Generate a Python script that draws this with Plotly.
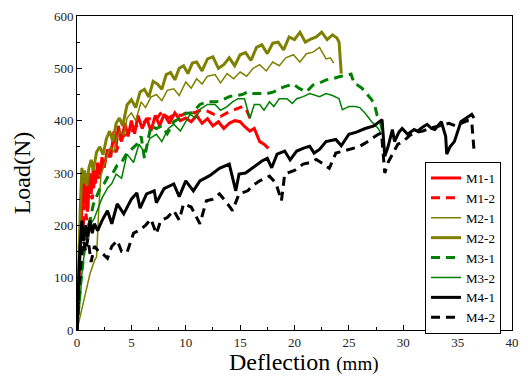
import plotly.graph_objects as go

# ---- data ----
m1_1_x = [0,0.2,0.35,0.5,0.6,0.7,0.85,1.0,1.15,1.3,1.5,1.7,1.9,2.1,2.3,2.5,2.8,3.1,3.4,3.6,3.8,4.1,4.4,4.7,5.0,5.3,5.6,6.0,6.4,6.8,7.2,7.6,8.0,8.5,9.0,9.5,10.0,10.5,11.0,11.5,12.0,12.5,13.0,13.5,14.0,14.5,15.0,15.4,15.9,16.3,16.8,17.2,17.6]
m1_1_y = [0,90,180,280,300,240,290,230,300,260,310,280,320,295,330,310,345,330,380,350,390,360,395,370,400,375,410,385,405,380,410,390,412,395,415,400,405,398,410,395,404,390,398,385,395,400,398,389,380,385,360,355,347]

m1_2_x = [0,0.3,0.5,0.7,0.9,1.1,1.4,1.7,2.0,2.4,2.8,3.2,3.6,4.0,4.5,5.0,5.5,6.0,6.6,7.2,7.8,8.4,9.0,9.6,10.2,10.8,11.4,12.0,12.6,13.2,13.8,14.4,14.8,15.2,15.5,15.8,16.1]
m1_2_y = [0,114,180,240,210,270,250,300,290,320,330,350,340,365,375,380,390,395,404,400,417,405,412,410,417,415,421,418,412,408,415,420,423,427,425,410,395]

m2_1_x = [0,0.4,0.8,1.2,1.6,1.8,2.0,2.2,2.5,2.8,3.1,3.4,3.7,4.0,4.3,4.6,5.0,5.4,5.9,6.3,6.8,7.3,7.8,8.3,8.9,9.4,10.0,10.5,11.0,11.5,12.0,12.7,13.2,13.8,14.4,15.0,15.6,16.2,16.8,17.4,18.0,18.6,19.2,19.9,20.5,21.1,21.7,22.3,22.9,23.3,23.6]
m2_1_y = [0,35,72,108,132,140,230,295,315,335,350,340,370,380,372,405,415,400,436,425,445,450,438,458,461,448,474,462,480,470,485,488,472,490,480,493,485,500,507,495,512,505,520,526,512,528,531,540,518,520,510]

m2_2_x = [0,0.15,0.3,0.45,0.55,0.7,0.9,1.1,1.3,1.5,1.8,2.1,2.4,2.7,3.0,3.3,3.6,3.9,4.2,4.6,5.0,5.4,5.8,6.2,6.6,7.0,7.4,7.8,8.2,8.6,9.0,9.4,9.8,10.2,10.6,11.0,11.5,12.0,12.5,13.0,13.5,14.0,14.5,15.0,15.5,16.0,16.5,17.0,17.5,18.0,18.5,19.0,19.5,20.0,20.5,21.0,21.5,22.0,22.5,23.0,23.5,23.9,24.1,24.3]
m2_2_y = [0,140,230,310,280,305,275,310,325,305,340,350,335,365,380,360,395,405,390,430,440,425,455,460,445,475,470,460,488,492,478,500,505,490,510,512,495,518,522,500,507,520,505,526,530,515,540,545,528,548,550,535,560,555,569,550,556,560,569,555,564,558,550,490]

m3_1_x = [0,0.3,0.6,0.9,1.2,1.5,1.8,2.1,2.5,2.9,3.3,3.7,4.1,4.5,5.0,5.5,5.9,6.2,6.5,6.8,7.3,7.8,8.3,8.9,9.5,10.0,10.6,11.3,12.0,12.8,13.4,14.0,14.6,15.2,15.7,16.2,16.7,17.5,18.1,18.6,19.1,19.5,19.9,20.4,21.1,21.7,22.3,22.9,23.5,24.1,24.7,25.2,25.5,25.8,26.2,26.7,27.1,27.4,27.6,27.9,28.1]
m3_1_y = [0,80,140,190,210,240,255,270,280,295,300,315,320,335,345,355,370,328,360,390,385,390,375,398,405,414,415,431,436,436,440,446,448,450,455,452,452,452,455,461,465,468,470,462,455,468,472,478,480,484,486,489,470,468,462,450,440,427,410,398,380]

m3_2_x = [0,0.3,0.45,0.7,0.9,1.2,1.6,2.0,2.3,2.8,3.2,3.6,4.1,4.6,5.2,5.7,6.2,6.7,7.3,7.8,8.4,8.9,9.5,10.0,10.4,10.9,11.4,12.0,12.7,13.2,13.8,14.3,14.8,15.4,15.9,16.3,16.8,17.2,17.7,18.1,18.6,19.3,19.8,20.2,20.8,21.4,21.7,22.3,22.9,23.5,24.1,24.4,24.8,25.0,25.6,26.0,26.5,27.1,27.7,28.0]
m3_2_y = [0,60,108,152,170,200,214,235,252,271,280,298,290,336,320,355,340,366,374,360,385,393,380,398,412,405,423,431,431,420,427,436,442,442,404,431,431,420,436,427,442,442,433,442,446,452,450,446,452,448,442,421,425,427,427,425,414,398,385,374]

m4_1_x = [0,0.1,0.25,0.45,0.6,0.8,1.0,1.2,1.4,1.6,1.9,2.3,2.8,3.2,3.7,4.3,5.0,5.5,5.8,6.4,7.1,7.3,8.0,8.9,9.4,10.0,10.7,11.3,12.2,13.1,14.0,14.6,14.9,15.5,16.1,17.0,17.5,17.9,18.4,19.1,19.6,20.2,20.9,21.4,21.8,22.3,22.9,23.8,24.3,25.0,25.7,26.5,27.3,28.05,28.2,28.3,28.6,29.0,29.2,29.6,29.9,30.4,31.0,31.3,31.8,32.2,32.6,32.9,33.5,33.9,34.0,34.3,34.7,35.3,35.8,36.3,36.5]
m4_1_y = [0,60,150,209,170,200,177,210,185,203,190,209,228,203,241,222,250,262,233,260,266,243,270,279,255,285,266,285,295,309,317,266,298,300,309,323,328,310,336,342,325,342,348,351,338,345,360,364,352,374,378,385,390,402,360,332,350,383,360,378,385,374,383,380,388,393,385,383,398,370,336,350,360,398,405,412,405]

m4_2_x = [0,0.2,0.4,0.6,0.8,1.0,1.3,1.6,2.0,2.4,2.8,3.2,3.7,4.1,4.6,5.2,5.7,6.3,6.8,7.3,7.7,8.3,8.9,9.4,9.8,10.5,11.3,11.9,12.5,13.1,13.7,14.3,14.9,15.7,16.1,16.8,17.7,18.3,18.8,19.1,20.0,20.8,21.4,22.0,22.6,23.2,23.8,24.5,25.3,25.9,26.5,27.1,27.7,28.0,28.3,28.6,29.0,29.5,30.0,30.6,31.2,31.8,32.4,33.0,33.6,34.2,34.8,35.4,35.9,36.3,36.5]
m4_2_y = [0,90,140,170,150,175,130,160,150,145,137,160,171,150,148,185,190,200,212,184,209,215,228,210,241,235,203,247,250,260,245,228,260,266,275,285,294,280,247,298,305,317,320,326,318,309,338,342,347,350,357,365,374,376,300,320,336,355,360,372,378,380,385,388,392,395,390,396,400,398,345]

x_ticks = [0, 5, 10, 15, 20, 25, 30, 35, 40]
y_ticks = [0, 100, 200, 300, 400, 500, 600]

RED, OLIVE, GREEN, BLACK = "#ff0000", "#808000", "#008000", "#000000"
DASH = "9px,6px"

series = [
    ("M1-1", m1_1_x, m1_1_y, RED, 3, "solid"),
    ("M1-2", m1_2_x, m1_2_y, RED, 3, DASH),
    ("M2-1", m2_1_x, m2_1_y, OLIVE, 1.5, "solid"),
    ("M2-2", m2_2_x, m2_2_y, OLIVE, 3, "solid"),
    ("M3-1", m3_1_x, m3_1_y, GREEN, 3, DASH),
    ("M3-2", m3_2_x, m3_2_y, GREEN, 1.5, "solid"),
    ("M4-1", m4_1_x, m4_1_y, BLACK, 3, "solid"),
    ("M4-2", m4_2_x, m4_2_y, BLACK, 3, DASH),
]

fig = go.Figure()
for name, xs, ys, col, w, dash in series:
    fig.add_trace(go.Scatter(x=xs, y=ys, mode="lines", name=name,
                             line=dict(color=col, width=w, dash=dash)))

FONT = "Liberation Serif"
axis_common = dict(showgrid=False, zeroline=False, showline=True, linecolor="black",
                   linewidth=1, mirror=True, ticks="inside", ticklen=5, tickcolor="black",
                   tickfont=dict(family=FONT, size=13, color="#222"))

fig.update_xaxes(range=[0, 40], tickvals=x_ticks, ticktext=[str(v) for v in x_ticks],
                 minor=dict(ticks="inside", ticklen=3, dtick=2.5, tick0=0, tickcolor="black"),
                 **axis_common)
fig.update_yaxes(range=[0, 600], tickvals=y_ticks, ticktext=[str(v) for v in y_ticks],
                 minor=dict(ticks="inside", ticklen=3, dtick=50, tick0=0, tickcolor="black"),
                 title=dict(text="Load(N)", font=dict(family=FONT, size=24, color="black"), standoff=16),
                 **axis_common)

fig.add_annotation(text="Deflection <span style='font-size:19px'>(mm)</span>",
                   xref="paper", yref="paper", x=0.5226, y=-0.101,
                   xanchor="center", yanchor="middle", showarrow=False,
                   font=dict(family=FONT, size=24, color="black"))

fig.update_layout(
    width=528, height=376,
    margin=dict(l=77, r=9, t=14, b=46),
    paper_bgcolor="white", plot_bgcolor="white",
    showlegend=True,
    legend=dict(x=0.80, y=0.535, xanchor="left", yanchor="top",
                bgcolor="white", bordercolor="black", borderwidth=1,
                font=dict(family=FONT, size=13, color="black"),
                itemwidth=30, tracegroupgap=0),
)

fig.write_html("out.html")
